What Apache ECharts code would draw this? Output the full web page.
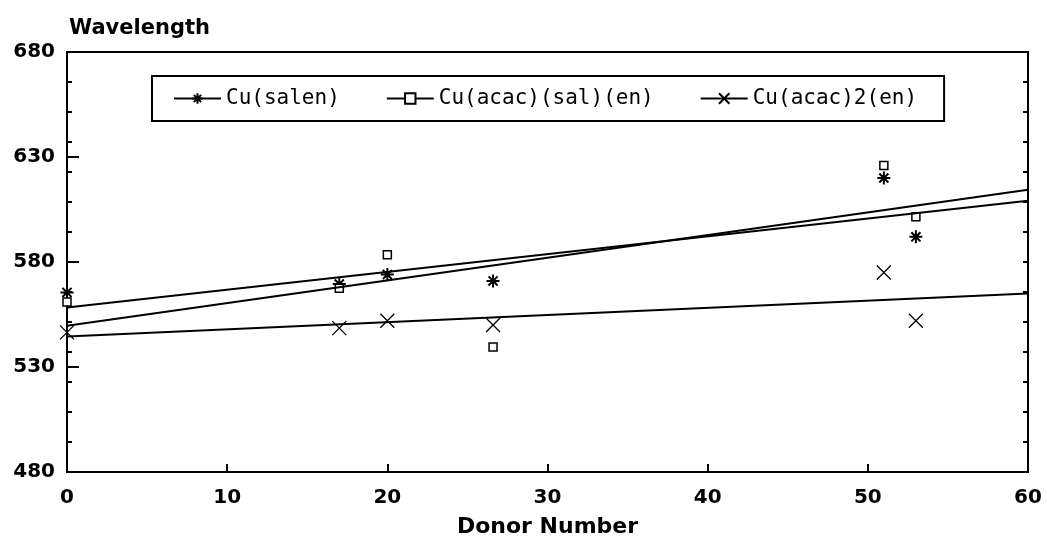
<!DOCTYPE html>
<html>
<head>
<meta charset="utf-8">
<title>Wavelength vs Donor Number</title>
<script src="https://cdn.jsdelivr.net/npm/echarts@6/dist/echarts.min.js"></script>
<style>
  html, body {margin:0; padding:0; background:#fff;}
  #main {width:1047px; height:543px;}
</style>
</head>
<body>
<div id="main"></div>
<script>
// donor number of each solvent (x) and the measured wavelengths (y)
var donorNumber = [0, 17, 20, 26.6, 51, 53];
var cuSalen     = [565.5, 569.5, 574, 571, 620, 592];
var cuAcacSalEn = [561, 567.5, 583.5, 539.5, 626, 601.5];
var cuAcac2En   = [546.5, 548.5, 552, 550, 575, 552];
var seriesNames = ["Cu(salen)", "Cu(acac)(sal)(en)", "Cu(acac)2(en)"];
var xTicks = [0, 10, 20, 30, 40, 50, 60];
var yTicks = [480, 530, 580, 630, 680];

var starPath = "path://M5,0L5,10M0,5L10,5M1.5,1.5L8.5,8.5M8.5,1.5L1.5,8.5";
var crossPath = "path://M0,0L10,10M10,0L0,10";

function pairs(xs, ys) {
    var out = [];
    for (var i = 0; i < xs.length; i++) out.push([xs[i], ys[i]]);
    return out;
}

// least squares line drawn over the whole x range
function fitLine(xs, ys) {
    var n = xs.length, mx = 0, my = 0, sxx = 0, sxy = 0;
    for (var i = 0; i < n; i++) { mx += xs[i] / n; my += ys[i] / n; }
    for (var j = 0; j < n; j++) {
        sxx += (xs[j] - mx) * (xs[j] - mx);
        sxy += (xs[j] - mx) * (ys[j] - my);
    }
    var b = sxy / sxx, a = my - b * mx;
    var x0 = xTicks[0], x1 = xTicks[xTicks.length - 1];
    return [[x0, a + b * x0], [x1, a + b * x1]];
}

window.onload = function () {
    var Mychart = echarts.init(document.getElementById("main"));
    var boldFont = {fontFamily: "DejaVu Sans", fontWeight: "bold", color: "#000"};
    var groups = [
        {name: seriesNames[0], ys: cuSalen, symbol: starPath, size: 13, fill: "transparent", bw: 2},
        {name: seriesNames[1], ys: cuAcacSalEn, symbol: "rect", size: 8, fill: "#fff", bw: 1.5},
        {name: seriesNames[2], ys: cuAcac2En, symbol: crossPath, size: 14, fill: "transparent", bw: 1.3}
    ];
    var series = [];
    groups.forEach(function (g) {
        // fitted line first so the legend icon is line + marker
        series.push({
            name: g.name, type: "line", data: fitLine(donorNumber, g.ys),
            showSymbol: false, symbol: g.symbol, silent: true,
            lineStyle: {color: "#000", width: 2},
            itemStyle: {color: g.fill, borderColor: "#000", borderWidth: g.bw}
        });
        series.push({
            name: g.name, type: "scatter", data: pairs(donorNumber, g.ys),
            symbol: g.symbol, symbolSize: g.size,
            itemStyle: {color: g.fill, borderColor: "#000", borderWidth: g.bw, opacity: 1}
        });
    });

    var option = {
        color: ["#000"],
        animation: false,
        title: {
            text: "Wavelength", left: 64, top: 13,
            textStyle: Object.assign({fontSize: 21}, boldFont)
        },
        legend: {
            data: seriesNames, left: 152, top: 76,
            padding: [12, 27, 12, 21], itemGap: 46, itemWidth: 47, itemHeight: 13,
            borderColor: "#000", borderWidth: 2, selectedMode: false,
            textStyle: {fontFamily: "DejaVu Sans Mono", fontSize: 21, color: "#000"}
        },
        grid: {
            left: 67, right: 19, top: 52, bottom: 63,
            show: true, borderColor: "#000", borderWidth: 2
        },
        xAxis: {
            type: "value", min: xTicks[0], max: xTicks[xTicks.length - 1], interval: 10,
            name: "Donor Number", nameLocation: "middle", nameGap: 44,
            nameTextStyle: Object.assign({fontSize: 22}, boldFont),
            axisLine: {lineStyle: {color: "#000", width: 2}},
            axisTick: {inside: true, length: 8, lineStyle: {color: "#000", width: 2}},
            axisLabel: Object.assign({margin: 16, fontSize: 20}, boldFont),
            splitLine: {show: false}
        },
        yAxis: [
            {
                type: "value", min: yTicks[0], max: yTicks[yTicks.length - 1], interval: 50,
                axisLine: {show: true, lineStyle: {color: "#000", width: 2}},
                axisTick: {inside: true, length: 12, lineStyle: {color: "#000", width: 2}},
                axisLabel: Object.assign({margin: 12, fontSize: 20}, boldFont),
                splitLine: {show: false}
            },
            {   // small ticks, left side
                type: "value", position: "left", min: 0, max: 14, interval: 1,
                axisLine: {show: false}, axisLabel: {show: false}, splitLine: {show: false},
                axisTick: {inside: true, length: 5, lineStyle: {color: "#000", width: 2}}
            },
            {   // small ticks, right side
                type: "value", position: "right", min: 0, max: 14, interval: 1,
                axisLine: {show: false}, axisLabel: {show: false}, splitLine: {show: false},
                axisTick: {inside: true, length: 5, lineStyle: {color: "#000", width: 2}}
            }
        ],
        series: series
    };
    Mychart.setOption(option);
};
</script>
</body>
</html>
